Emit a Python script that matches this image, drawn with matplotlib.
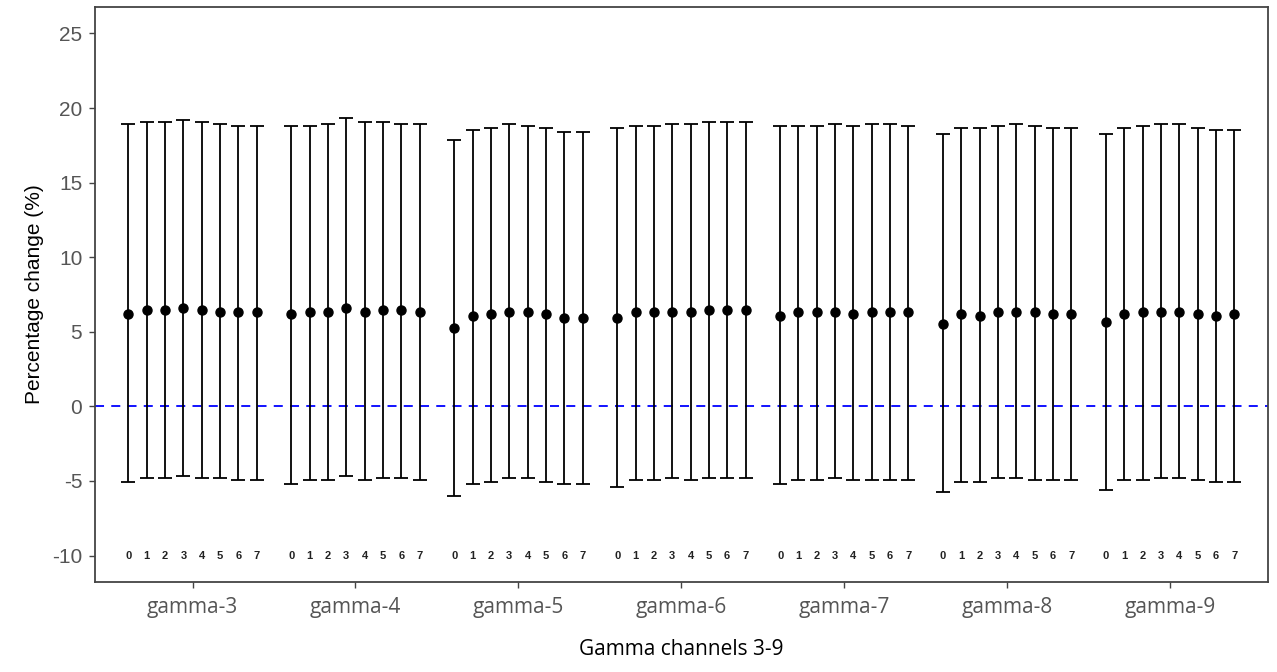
import numpy as np
import matplotlib.pyplot as plt

groups = ["gamma-3", "gamma-4", "gamma-5", "gamma-6", "gamma-7", "gamma-8", "gamma-9"]
lags = [0, 1, 2, 3, 4, 5, 6, 7]

# point estimates per group (rows) and lag (columns)
est = [
    [6.17, 6.46, 6.46, 6.57, 6.46, 6.30, 6.30, 6.30],
    [6.17, 6.30, 6.30, 6.57, 6.30, 6.46, 6.46, 6.30],
    [5.23, 6.04, 6.17, 6.30, 6.30, 6.17, 5.90, 5.90],
    [5.90, 6.30, 6.30, 6.30, 6.30, 6.46, 6.46, 6.46],
    [6.04, 6.30, 6.30, 6.30, 6.17, 6.30, 6.30, 6.30],
    [5.50, 6.17, 6.04, 6.30, 6.30, 6.30, 6.17, 6.17],
    [5.63, 6.17, 6.30, 6.30, 6.30, 6.17, 6.04, 6.17],
]
upper = [
    [18.95, 19.07, 19.07, 19.20, 19.07, 18.95, 18.82, 18.82],
    [18.82, 18.82, 18.95, 19.32, 19.07, 19.07, 18.95, 18.95],
    [17.84, 18.53, 18.67, 18.95, 18.82, 18.67, 18.40, 18.40],
    [18.67, 18.82, 18.82, 18.95, 18.95, 19.07, 19.07, 19.07],
    [18.82, 18.82, 18.82, 18.95, 18.82, 18.95, 18.95, 18.82],
    [18.26, 18.67, 18.67, 18.82, 18.95, 18.82, 18.67, 18.67],
    [18.26, 18.67, 18.80, 18.95, 18.95, 18.67, 18.53, 18.53],
]
lower = [
    [-5.10, -4.83, -4.83, -4.69, -4.83, -4.83, -4.94, -4.94],
    [-5.23, -4.94, -4.94, -4.69, -4.94, -4.83, -4.83, -4.94],
    [-6.04, -5.23, -5.10, -4.83, -4.83, -5.10, -5.23, -5.23],
    [-5.39, -4.94, -4.94, -4.83, -4.94, -4.83, -4.83, -4.83],
    [-5.23, -4.94, -4.94, -4.83, -4.94, -4.94, -4.94, -4.94],
    [-5.77, -5.10, -5.10, -4.83, -4.83, -4.94, -4.94, -4.94],
    [-5.63, -4.94, -4.94, -4.83, -4.83, -4.94, -5.10, -5.10],
]
label_y = -10

est = np.array(est)
upper = np.array(upper)
lower = np.array(lower)

fig = plt.figure(figsize=(12.77, 6.72), dpi=100)
ax = fig.add_axes([0.0742, 0.1344, 0.9187, 0.8547])

dodge = 0.9 / len(lags)
offsets = (np.array(lags) - (len(lags) - 1) / 2) * dodge

ax.axhline(0, color="#0000ff", lw=1.3, ls=(0, (5, 4)), zorder=1)

for i, g in enumerate(groups):
    xs = i + 1 + offsets
    y = est[i]
    ax.errorbar(xs, y, yerr=[y - lower[i], upper[i] - y], fmt="o", color="black",
                ms=6.5, elinewidth=1.3, capsize=5, capthick=1.3, zorder=3)
    for x, lag in zip(xs, lags):
        ax.text(x, label_y, str(lag), ha="center", va="center", fontsize=8,
                color="#222222", fontweight="bold", family="Liberation Sans")

ax.set_xlim(0.4, 7.6)
ax.set_ylim(-11.75, 26.75)
ax.set_xticks(np.arange(1, len(groups) + 1))
ax.set_xticklabels(groups, family="Open Sans", fontsize=15, color="#555555")
ax.set_yticks([-10, -5, 0, 5, 10, 15, 20, 25])
ax.set_yticklabels(["-10", "-5", "0", "5", "10", "15", "20", "25"],
                   family="Liberation Sans", fontsize=15, color="#555555")
ax.tick_params(length=4, width=1, color="#444444", pad=5)
ax.tick_params(axis="x", pad=7)

for s in ax.spines.values():
    s.set_color("#444444")
    s.set_linewidth(1.3)

ax.set_ylabel("Percentage change (%)", family="Liberation Sans", fontsize=15, labelpad=6)
ax.set_xlabel("Gamma channels 3-9", family="Open Sans", fontsize=15, labelpad=15)

fig.savefig("out.png", dpi=100)
